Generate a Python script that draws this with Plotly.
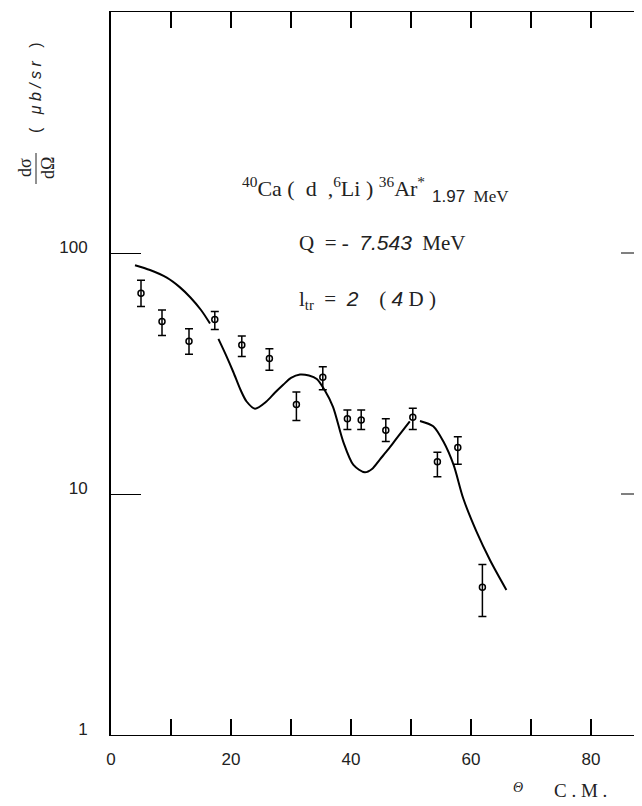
import plotly.graph_objects as go

# measured points: angle (deg c.m.), cross section (ub/sr), error up / down
theta = [5.0, 8.5, 13.0, 17.3, 21.8, 26.4, 30.9, 35.3, 39.4, 41.7, 45.8, 50.3, 54.4, 57.8, 61.9]
sigma = [68.0, 52.0, 43.0, 53.0, 41.5, 36.5, 23.5, 30.5, 20.5, 20.3, 18.4, 20.8, 13.6, 15.6, 4.1]
err_up = [9.0, 6.0, 5.5, 4.2, 3.8, 3.6, 3.0, 3.2, 1.8, 2.0, 2.1, 1.9, 1.3, 1.7, 1.0]
err_dn = [8.0, 6.5, 5.0, 4.8, 4.3, 3.9, 3.3, 3.4, 2.0, 1.8, 1.9, 2.3, 1.8, 2.3, 1.0]

# DWBA curve (None = gaps where the curve is broken at data points)
curve_x = [4.0, 6.5, 9.3, 11.5, 13.2, 15.0, 16.5, None, 17.9, 19.2, 20.4, 21.6, 22.6, 24.0,
           25.9, 27.3, 28.7, 30.0, 31.5, 33.0, 34.3, 35.6, 37.0, 38.7, 40.4, 42.3, 43.5,
           44.8, 46.2, 47.6, 49.8, None, 51.5, 53.7, 55.4, 57.1, 58.7, 60.9, 63.2, 65.9]
curve_y = [89.0, 85.0, 79.0, 72.0, 65.5, 58.0, 51.0, None, 44.0, 37.5, 32.0, 27.0, 24.2, 22.6,
           24.2, 26.3, 28.4, 30.3, 31.3, 31.0, 30.0, 27.0, 23.0, 16.5, 13.2, 12.3, 12.7,
           13.9, 15.3, 17.0, 20.0, None, 20.1, 19.1, 16.5, 13.2, 9.6, 7.0, 5.3, 4.0]

x_ticks = [0, 10, 20, 30, 40, 50, 60, 70, 80]
x_labels = ["0", "", "20", "", "40", "", "60", "", "80"]
y_ticks = [1, 10, 100]
y_labels = ["1", "10", "100"]

SERIF = "Liberation Serif"
SANS = "Liberation Sans"
INK = "#222"

fig = go.Figure()
fig.add_trace(go.Scatter(x=curve_x, y=curve_y, mode="lines",
                         line=dict(color="black", width=2, shape="spline", smoothing=0.8),
                         connectgaps=False, showlegend=False))
fig.add_trace(go.Scatter(x=theta, y=sigma, mode="markers",
                         marker=dict(symbol="circle-open", size=6, color="black",
                                     line=dict(width=1.5)),
                         error_y=dict(type="data", symmetric=False, array=err_up,
                                      arrayminus=err_dn, color="black",
                                      thickness=1.5, width=4),
                         showlegend=False))


# screen pixel -> paper coords (plot area spans x 111..642, y 12..735 on the page)
def px(xp):
    return (xp - 111) / 531


def py(yp):
    return (735 - yp) / 723


def sans(s):
    return "<span style='font-family:Liberation Sans'>" + s + "</span>"


anns = [
    dict(x=px(240), y=py(187), xanchor="left",
         text="<sup>40</sup>Ca (  d  ,<sup>6</sup>Li ) <sup>36</sup>Ar<sup>*</sup>",
         font=dict(family=SERIF, size=22, color=INK)),
    dict(x=px(470), y=py(196), text=sans("1.97") + "  MeV",
         font=dict(family=SERIF, size=17, color=INK)),
    dict(x=px(297), y=py(243), xanchor="left",
         text="Q  = -  <i>" + sans("7.543") + "</i>  MeV",
         font=dict(family=SERIF, size=21, color=INK)),
    dict(x=px(297), y=py(300), xanchor="left",
         text="l<sub>tr</sub>  =  <i>" + sans("2") + "</i>    ( <i>" + sans("4") + "</i> D )",
         font=dict(family=SERIF, size=21, color=INK)),
    dict(x=px(25), y=py(168), text="dσ", textangle=-90,
         font=dict(family=SERIF, size=18, color=INK)),
    dict(x=px(48), y=py(168), text="dΩ", textangle=-90,
         font=dict(family=SERIF, size=18, color=INK)),
    dict(x=px(36), y=py(88), text="(   <i>μ b / s r</i>   )", textangle=-90,
         font=dict(family=SANS, size=16, color=INK)),
    dict(x=px(518), y=py(787), text="<i>Θ</i>",
         font=dict(family=SERIF, size=14, color=INK)),
    dict(x=px(580), y=py(790), text="C . M .",
         font=dict(family=SERIF, size=19, color=INK)),
]
for a in anns:
    a.setdefault("xanchor", "center")
    a["yanchor"] = "middle"
    a["showarrow"] = False
    a["xref"] = "paper"
    a["yref"] = "paper"

shapes = [
    dict(type="line", xref="paper", yref="paper", x0=px(36), x1=px(36),
         y0=py(153), y1=py(184), line=dict(color=INK, width=1)),
    dict(type="line", xref="paper", yref="y", x0=px(621), x1=1, y0=100, y1=100,
         line=dict(color="black", width=1)),
    dict(type="line", xref="paper", yref="y", x0=px(621), x1=1, y0=10, y1=10,
         line=dict(color="black", width=1)),
]

# page body has an 8px margin, so margins are shifted to land the axes where the original has them
fig.update_layout(
    width=642, height=806,
    margin=dict(l=103, r=8, t=4, b=79),
    paper_bgcolor="white", plot_bgcolor="white",
    annotations=anns, shapes=shapes,
    font=dict(family=SANS, size=17, color=INK),
)
fig.update_xaxes(range=[0, 88.5], tickvals=x_ticks, ticktext=x_labels,
                 ticks="inside", ticklen=16, tickwidth=1.5, tickcolor="black",
                 showline=True, linecolor="black", linewidth=1, mirror="ticks",
                 showgrid=False, zeroline=False, ticklabelstandoff=9,
                 tickfont=dict(family=SANS, size=17, color=INK))
fig.update_yaxes(type="log", range=[0, 3], tickvals=y_ticks, ticktext=y_labels,
                 ticks="inside", ticklen=30, tickwidth=1, tickcolor="black",
                 showline=True, linecolor="black", linewidth=2, mirror=False,
                 showgrid=False, zeroline=False, ticklabelstandoff=18,
                 ticklabelshift=-6,
                 tickfont=dict(family=SANS, size=17, color=INK))

fig.write_html("out.html")
